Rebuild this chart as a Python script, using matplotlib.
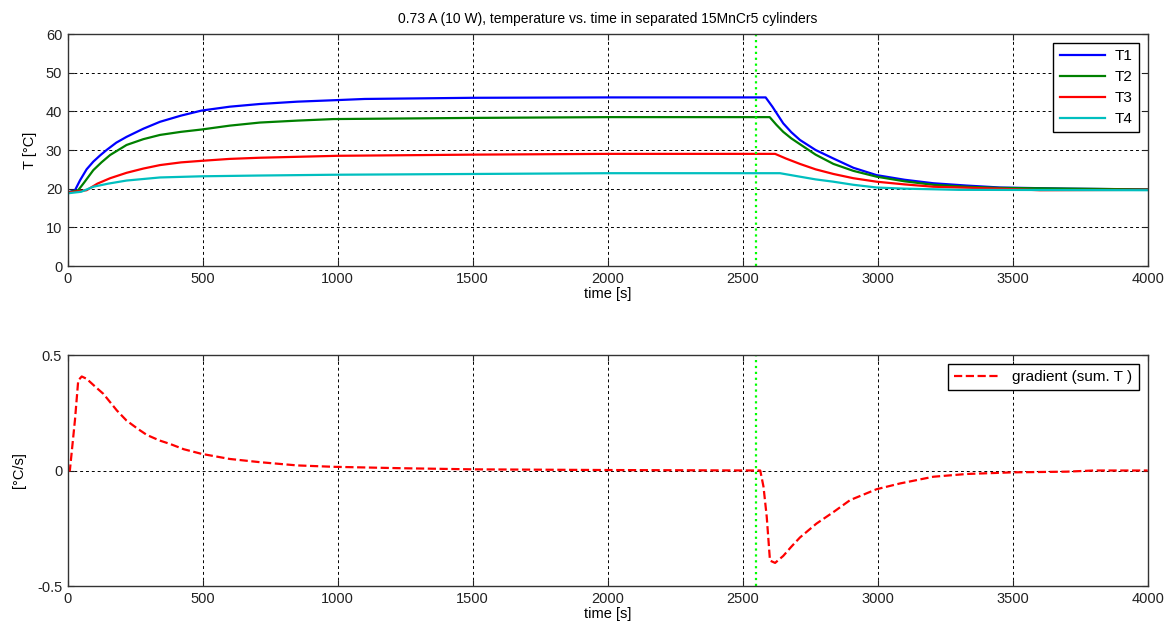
import matplotlib
matplotlib.use("Agg")
import matplotlib.pyplot as plt

plt.rcParams['font.family'] = ['Liberation Sans', 'DejaVu Sans']
plt.rcParams['axes.unicode_minus'] = False

# temperatures
t1_time = [0, 27, 46, 70, 95, 120, 144, 180, 218, 280, 342, 420, 496, 600, 712, 850, 996, 1100, 1500, 2000,
           2585, 2610, 2650, 2680, 2712, 2770, 2836, 2910, 2996, 3100, 3206, 3330, 3453, 3700, 4000]
t1_vals = [19, 19.6, 22.2, 25.0, 27.0, 28.6, 30.0, 31.9, 33.4, 35.5, 37.3, 38.9, 40.2, 41.2, 41.9, 42.5, 42.9, 43.2, 43.5, 43.6,
           43.6, 41.2, 36.9, 34.6, 32.6, 30.0, 27.8, 25.4, 23.5, 22.3, 21.4, 20.8, 20.3, 20.0, 19.8]

t2_time = [0, 39, 60, 95, 125, 157, 218, 280, 342, 420, 496, 600, 712, 850, 984, 1500, 2000,
           2600, 2625, 2650, 2680, 2712, 2770, 2836, 2910, 2996, 3100, 3206, 3330, 3450, 4000]
t2_vals = [19, 19.6, 21.5, 24.8, 26.8, 28.7, 31.3, 32.8, 33.9, 34.7, 35.3, 36.3, 37.1, 37.6, 38.0, 38.3, 38.5,
           38.5, 36.5, 34.7, 33.0, 31.5, 28.8, 26.4, 24.6, 23.1, 21.9, 21.0, 20.5, 20.2, 19.8]

t3_time = [0, 70, 110, 157, 218, 280, 342, 420, 496, 600, 712, 1000, 1500, 2000,
           2620, 2660, 2712, 2770, 2836, 2910, 2996, 3100, 3206, 3450, 3600, 4000]
t3_vals = [19, 19.6, 21.3, 22.7, 24.1, 25.2, 26.1, 26.8, 27.2, 27.7, 28.0, 28.5, 28.8, 29.0,
           29.0, 27.8, 26.4, 25.0, 23.8, 22.7, 21.8, 21.1, 20.5, 20.0, 19.6, 19.7]

t4_time = [0, 50, 95, 150, 218, 342, 496, 712, 984, 1500, 2000,
           2638, 2712, 2770, 2836, 2910, 2996, 3100, 3300, 4000]
t4_vals = [18.8, 19.2, 20.5, 21.3, 22.1, 22.9, 23.2, 23.4, 23.6, 23.8, 24.0,
           24.0, 23.1, 22.4, 21.8, 21.0, 20.3, 20.0, 19.7, 19.6]

series_names = ["T1", "T2", "T3", "T4"]
series_colors = ["#0000ff", "#008000", "#ff0000", "#00bfbf"]

# gradient of summed temperature
grad_time = [0, 8, 27, 39, 52, 70, 100, 132, 182, 218, 260, 293, 340, 379, 430, 496, 600, 712, 850, 984, 1230, 1500, 2000, 2565,
             2577, 2589, 2601, 2620, 2650, 2680, 2712, 2773, 2836, 2898, 2996, 3083, 3206, 3330, 3500, 3700, 3800, 4000]
grad_vals = [0, 0, 0.22, 0.39, 0.407, 0.397, 0.365, 0.332, 0.26, 0.216, 0.18, 0.154, 0.13, 0.115, 0.092, 0.072, 0.05, 0.036, 0.022, 0.016, 0.01, 0.005, 0.002, 0,
             -0.07, -0.2, -0.39, -0.40, -0.37, -0.33, -0.29, -0.23, -0.18, -0.128, -0.081, -0.056, -0.027, -0.015, -0.008, -0.005, 0, 0]

marker_time = 2550

fig = plt.figure(figsize=(11.73, 6.3), dpi=100)
ax1 = fig.add_axes([67.7 / 1173, 1 - 266 / 630, 1080 / 1173, 232 / 630])
ax2 = fig.add_axes([67.7 / 1173, 1 - 586 / 630, 1080 / 1173, 231 / 630])


def style_axes(ax):
    ax.grid(True, color="black", linestyle=(0, (3, 3)), linewidth=0.7)
    ax.tick_params(direction="in", top=True, right=True, length=4, labelsize=10.5, colors="#222222", pad=4)
    for s in ax.spines.values():
        s.set_color("#333333")
        s.set_linewidth(1.0)
    ax.set_xlim(0, 4000)
    ax.set_xticks(range(0, 4001, 500))
    ax.set_xlabel("time [s]", fontsize=10.5, labelpad=1)


for tt, vv, name, col in zip([t1_time, t2_time, t3_time, t4_time], [t1_vals, t2_vals, t3_vals, t4_vals],
                             series_names, series_colors):
    ax1.plot(tt, vv, color=col, linewidth=1.6, label=name)
ax1.axvline(marker_time, color="#00ff00", linestyle=":", linewidth=1.6)
style_axes(ax1)
ax1.set_ylim(0, 60)
ax1.set_yticks(range(0, 61, 10))
ax1.set_ylabel("T [°C]", fontsize=10.5, labelpad=6)
ax1.set_title("0.73 A (10 W), temperature vs. time in separated 15MnCr5 cylinders", fontsize=10, pad=8)
leg1 = ax1.legend(loc="upper right", fontsize=11, fancybox=False, framealpha=1, edgecolor="black",
                  handlelength=3.0, borderaxespad=0.6, labelspacing=0.45, handletextpad=0.6)
leg1.get_frame().set_linewidth(1.0)

ax2.plot(grad_time, grad_vals, color="#ff0000", linestyle="--", linewidth=1.6, label="gradient (sum. T )")
ax2.axvline(marker_time, color="#00ff00", linestyle=":", linewidth=1.6)
style_axes(ax2)
ax2.set_ylim(-0.5, 0.5)
ax2.set_yticks([-0.5, 0, 0.5])
ax2.set_yticklabels(["-0.5", "0", "0.5"])
ax2.set_ylabel("[°C/s]", fontsize=10.5, labelpad=8)
leg2 = ax2.legend(loc="upper right", fontsize=11, fancybox=False, framealpha=1, edgecolor="black",
                  handlelength=3.0, borderaxespad=0.6)
leg2.get_frame().set_linewidth(1.0)

fig.savefig("out.png", dpi=100, facecolor="white")
